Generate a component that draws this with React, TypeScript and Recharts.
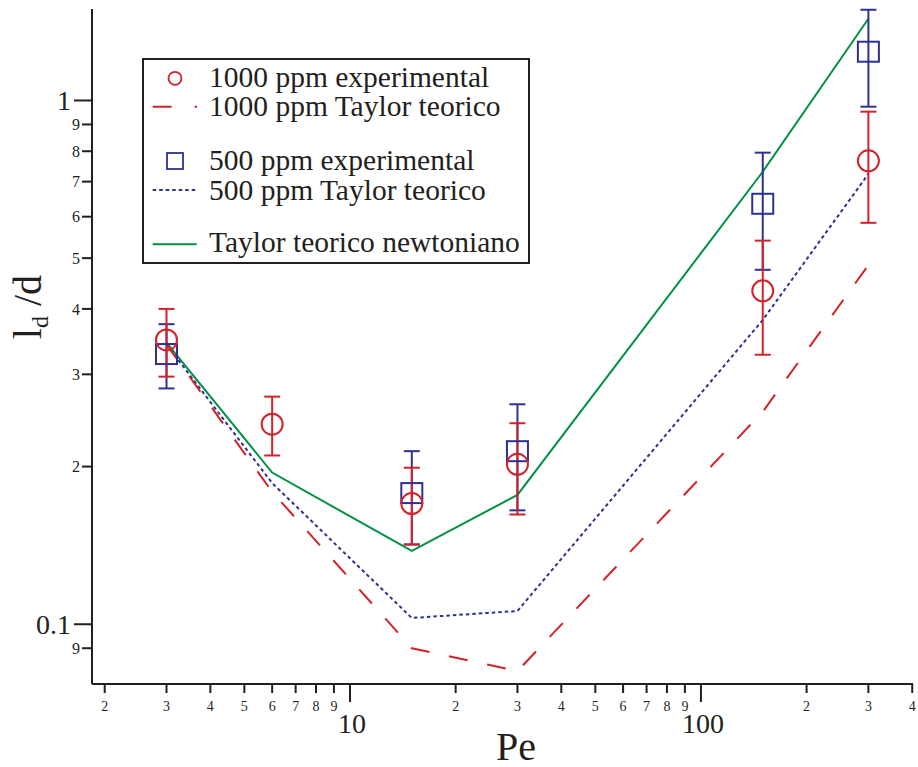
import { ComposedChart, ErrorBar, Legend, Line, Scatter, XAxis, YAxis } from "recharts"

const INK = "#231f20"
const RED = "#d2232a"
const BLUE = "#2e3192"
const GREEN = "#009245"
const FONT = "'Liberation Serif', 'Times New Roman', serif"

// 1000 ppm experimental (value, lower and upper end of error bar)
const pe1000 = [3, 6, 15, 30, 150, 300]
const val1000 = [0.349, 0.241, 0.17, 0.202, 0.433, 0.767]
const lo1000 = [0.297, 0.21, 0.142, 0.162, 0.327, 0.584]
const hi1000 = [0.4, 0.272, 0.199, 0.242, 0.54, 0.952]

// 500 ppm experimental
const pe500 = [3, 15, 30, 150, 300]
const val500 = [0.328, 0.178, 0.214, 0.635, 1.239]
const lo500 = [0.282, 0.142, 0.165, 0.475, 0.973]
const hi500 = [0.374, 0.214, 0.263, 0.795, 1.49]

// theoretical curves
const peTheory = [3, 6, 15, 30, 150, 300]
const taylor1000 = [0.342, 0.179, 0.09, 0.0814, 0.2545, 0.485]
const taylor500 = [0.342, 0.186, 0.1028, 0.106, 0.381, 0.724]
const taylorNewt = [0.345, 0.1948, 0.138, 0.1766, 0.731, 1.432]

const xTicks = [2, 3, 4, 5, 6, 7, 8, 9, 10, 20, 30, 40, 50, 60, 70, 80, 90, 100, 200, 300, 400]
const yTicks = [0.09, 0.1, 0.2, 0.3, 0.4, 0.5, 0.6, 0.7, 0.8, 0.9, 1]

const expRows = (pe: number[], v: number[], lo: number[], hi: number[]) =>
  pe.map((p, i) => ({ pe: p, v: v[i], err: [v[i] - lo[i], hi[i] - v[i]] }))
const lineRows = (v: number[]) => peTheory.map((p, i) => ({ pe: p, v: v[i] }))

const leadDigit = (v: number) => Math.round(v / Math.pow(10, Math.floor(Math.log10(v) + 1e-9)))

function XTick(props: any) {
  const { x, y, payload } = props
  const v = payload.value
  const major = v === 10 || v === 100
  return (
    <g>
      <line x1={x} x2={x} y1={y} y2={y + (major ? 18 : 9)} stroke={INK} strokeWidth={2} />
      <text
        x={major ? x + 2 : x}
        y={y + (major ? 49 : 27)}
        textAnchor="middle"
        fontFamily={FONT}
        fontSize={major ? 28 : 14}
        fill={INK}
        stroke="none"
      >
        {major ? String(v) : String(leadDigit(v))}
      </text>
    </g>
  )
}

function YTick(props: any) {
  const { x, y, payload } = props
  const v = payload.value
  const major = Math.abs(v - 1) < 1e-6 || Math.abs(v - 0.1) < 1e-6
  const label = major ? (v > 0.5 ? "1" : "0.1") : String(leadDigit(v))
  return (
    <g>
      <line x1={x - (major ? 18 : 10)} x2={x} y1={y} y2={y} stroke={INK} strokeWidth={2} />
      <text
        x={x - (major ? 21 : 12)}
        y={y}
        dy="0.35em"
        textAnchor="end"
        fontFamily={FONT}
        fontSize={major ? 28 : 16}
        fill={INK}
        stroke="none"
      >
        {label}
      </text>
    </g>
  )
}

function YTitle() {
  return (
    <text
      transform="rotate(-90 41 307)"
      x={41}
      y={307}
      textAnchor="middle"
      fontFamily={FONT}
      fontSize={40}
      fill={INK}
    >
      l<tspan fontSize={24} dy={7}>d</tspan>
      <tspan dy={-7}>{" /d"}</tspan>
    </text>
  )
}

function XTitle() {
  return (
    <text x={516} y={760} textAnchor="middle" fontFamily={FONT} fontSize={40} fill={INK}>
      Pe
    </text>
  )
}

const Circle = (props: any) => (
  <circle cx={props.cx} cy={props.cy} r={10.5} fill="none" stroke={RED} strokeWidth={2} />
)
const Square = (props: any) => (
  <rect x={props.cx - 10.5} y={props.cy - 10} width={21} height={20} fill="none" stroke={BLUE} strokeWidth={2} />
)

function LegendBox() {
  const txt = { fontFamily: FONT, fontSize: 29.5, fill: INK }
  return (
    <svg width={390} height={208} style={{ display: "block" }}>
      <rect x={1} y={1} width={386} height={204} fill="white" stroke={INK} strokeWidth={2} />
      <circle cx={33} cy={20.3} r={6.5} fill="none" stroke={RED} strokeWidth={1.8} />
      <text x={67} y={28.7} {...txt}>1000 ppm experimental</text>
      <line x1={10.7} x2={55} y1={48.7} y2={48.7} stroke={RED} strokeWidth={2} strokeDasharray="19 23" />
      <text x={67} y={58} {...txt}>1000 ppm Taylor teorico</text>
      <rect x={25} y={95} width={16} height={16} fill="none" stroke={BLUE} strokeWidth={1.8} />
      <text x={67} y={112} {...txt}>500 ppm experimental</text>
      <line x1={10.7} x2={54.7} y1={132} y2={132} stroke={BLUE} strokeWidth={2} strokeDasharray="3.5 3" />
      <text x={67} y={142} {...txt}>500 ppm Taylor teorico</text>
      <line x1={10.7} x2={54.7} y1={186.3} y2={186.3} stroke={GREEN} strokeWidth={2} />
      <text x={67} y={194.3} {...txt}>Taylor teorico newtoniano</text>
    </svg>
  )
}

export default function App() {
  return (
    <div style={{ position: "absolute", left: 0, top: 0, width: 918, height: 767, background: "white" }}>
      <ComposedChart width={918} height={767} margin={{ top: 9, right: 5, bottom: 0, left: 0 }}>
        <XAxis
          type="number"
          dataKey="pe"
          scale="log"
          domain={[1.84, 402]}
          ticks={xTicks}
          interval={0}
          allowDataOverflow
          height={83}
          tickSize={0}
          tickMargin={0}
          tickLine={false}
          axisLine={{ stroke: INK, strokeWidth: 2 }}
          tick={<XTick />}
          label={<XTitle />}
        />
        <YAxis
          type="number"
          scale="log"
          domain={[0.0769, 1.495]}
          ticks={yTicks}
          interval={0}
          allowDataOverflow
          width={92}
          tickSize={0}
          tickMargin={0}
          tickLine={false}
          axisLine={{ stroke: INK, strokeWidth: 2 }}
          tick={<YTick />}
          label={<YTitle />}
        />
        <Legend
          layout="horizontal"
          align="center"
          verticalAlign="middle"
          content={<LegendBox />}
          wrapperStyle={{ left: 142, top: 58, width: 390, height: 208 }}
        />
        <Line
          data={lineRows(taylorNewt)}
          dataKey="v"
          stroke={GREEN}
          strokeWidth={2}
          dot={false}
          activeDot={false}
          isAnimationActive={false}
        />
        <Line
          data={lineRows(taylor500)}
          dataKey="v"
          stroke={BLUE}
          strokeWidth={2}
          strokeDasharray="3.5 3"
          dot={false}
          activeDot={false}
          isAnimationActive={false}
        />
        <Line
          data={lineRows(taylor1000)}
          dataKey="v"
          stroke={RED}
          strokeWidth={2}
          strokeDasharray="19 20"
          dot={false}
          activeDot={false}
          isAnimationActive={false}
        />
        <Scatter data={expRows(pe500, val500, lo500, hi500)} dataKey="v" shape={Square} isAnimationActive={false}>
          <ErrorBar dataKey="err" direction="y" width={8} stroke={BLUE} strokeWidth={2} isAnimationActive={false} />
        </Scatter>
        <Scatter data={expRows(pe1000, val1000, lo1000, hi1000)} dataKey="v" shape={Circle} isAnimationActive={false}>
          <ErrorBar dataKey="err" direction="y" width={8} stroke={RED} strokeWidth={2} isAnimationActive={false} />
        </Scatter>
      </ComposedChart>
    </div>
  )
}
